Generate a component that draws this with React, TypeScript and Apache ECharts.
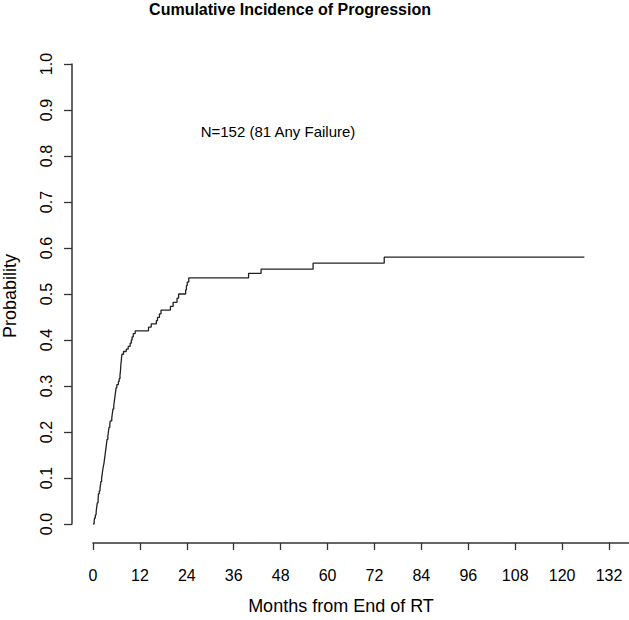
import React, { useEffect, useRef } from "react";
import * as echarts from "echarts";

const months: number[] = [
  0, 0.3, 0.4, 0.6, 0.8, 0.9, 1.0, 1.1, 1.3, 1.35, 1.4, 1.6, 1.8, 1.95, 2.0, 2.2, 2.3, 2.4, 2.5, 2.65,
  2.8, 2.9, 3.0, 3.1, 3.2, 3.3, 3.4, 3.5, 3.6, 3.8, 3.9, 4.0, 4.1, 4.3, 4.4, 4.8, 4.9, 5.0, 5.1, 5.3,
  5.4, 5.5, 5.6, 5.7, 5.8, 5.9, 6.1, 6.5, 6.7, 6.9, 7.0, 7.05, 7.1, 7.15, 7.25, 7.3, 7.4, 7.8, 8.5, 9.0,
  9.5, 9.8, 10.0, 10.3, 10.8, 14.2, 14.9, 16.2, 16.5, 17.0, 17.4, 19.8, 20.5, 21.5, 21.9, 23.7, 23.9, 24.1, 24.5, 39.8,
  43.0, 56.3, 74.5, 125.7,
];
const probs: number[] = [
  0, 0.007, 0.013, 0.02, 0.026, 0.033, 0.04, 0.046, 0.053, 0.059, 0.066, 0.072, 0.079, 0.086, 0.092, 0.099, 0.105, 0.112, 0.118, 0.125,
  0.132, 0.138, 0.145, 0.151, 0.158, 0.164, 0.171, 0.178, 0.184, 0.191, 0.197, 0.204, 0.21, 0.217, 0.224, 0.23, 0.237, 0.243, 0.25, 0.257,
  0.263, 0.27, 0.276, 0.283, 0.289, 0.296, 0.303, 0.31, 0.316, 0.323, 0.33, 0.336, 0.343, 0.349, 0.356, 0.362, 0.369, 0.375, 0.38, 0.386,
  0.393, 0.4, 0.407, 0.414, 0.42, 0.428, 0.435, 0.442, 0.449, 0.457, 0.465, 0.473, 0.482, 0.491, 0.5, 0.509, 0.518, 0.526, 0.535, 0.545,
  0.554, 0.567, 0.58, 0.58,
];

const titleText = "Cumulative Incidence of Progression";
const xTitle = "Months from End of RT";
const yTitle = "Probability";
const annotation = "N=152 (81 Any Failure)";
const xTickStep = 12;
const xMax = 132;
const yTickStep = 0.1;

const FONT = "'Liberation Sans', Arial, Helvetica, sans-serif";

export default function App() {
  const ref = useRef<HTMLDivElement>(null);
  useEffect(() => {
    if (!ref.current) return;
    const chart = echarts.init(ref.current, null, { renderer: "svg" });
    const data = months.map((m, i) => [m, probs[i]]);
    chart.setOption({
      animation: false,
      backgroundColor: "#ffffff",
      textStyle: { fontFamily: FONT },
      grid: { left: 93, top: 64, width: 516, height: 460, containLabel: false },
      xAxis: {
        type: "value",
        min: 0,
        max: xMax,
        interval: xTickStep,
        offset: 19,
        axisLine: { show: true, onZero: false, lineStyle: { color: "#333", width: 1.5 } },
        axisTick: { show: true, inside: false, length: 7, lineStyle: { color: "#333", width: 1.3 } },
        axisLabel: { show: true, margin: 24, color: "#000", fontSize: 16, fontFamily: FONT },
        splitLine: { show: false },
      },
      yAxis: {
        type: "value",
        min: 0,
        max: 1,
        interval: yTickStep,
        offset: 21,
        axisLine: { show: true, onZero: false, lineStyle: { color: "#333", width: 1.5 } },
        axisTick: { show: true, inside: false, length: 8, lineStyle: { color: "#333", width: 1.3 } },
        axisLabel: {
          show: true,
          rotate: 90,
          margin: 18,
          color: "#000",
          fontSize: 16,
          fontFamily: FONT,
          formatter: (v: number) => v.toFixed(1),
        },
        splitLine: { show: false },
      },
      series: [
        {
          type: "line",
          step: "end",
          data,
          showSymbol: false,
          symbol: "none",
          lineStyle: { color: "#222", width: 1.3 },
          silent: true,
        },
      ],
      graphic: [
        {
          type: "line",
          shape: { x1: 609, y1: 543, x2: 629, y2: 543 },
          style: { stroke: "#333", lineWidth: 1.5 },
        },
        {
          type: "text",
          x: 290,
          y: 9,
          style: {
            text: titleText,
            font: `bold 16px ${FONT}`,
            fill: "#000",
            textAlign: "center",
            textVerticalAlign: "middle",
          },
        },
        {
          type: "text",
          x: 341,
          y: 606,
          style: {
            text: xTitle,
            font: `18px ${FONT}`,
            fill: "#000",
            textAlign: "center",
            textVerticalAlign: "middle",
          },
        },
        {
          type: "text",
          x: 10,
          y: 296,
          rotation: Math.PI / 2,
          style: {
            text: yTitle,
            font: `18px ${FONT}`,
            fill: "#000",
            textAlign: "center",
            textVerticalAlign: "middle",
          },
        },
        {
          type: "text",
          x: 278,
          y: 131,
          style: {
            text: annotation,
            font: `15px ${FONT}`,
            fill: "#000",
            textAlign: "center",
            textVerticalAlign: "middle",
          },
        },
      ],
    });
    return () => chart.dispose();
  }, []);
  return (
    <div
      ref={ref}
      style={{ position: "fixed", left: 0, top: 0, width: 629, height: 620, background: "#fff" }}
    />
  );
}
